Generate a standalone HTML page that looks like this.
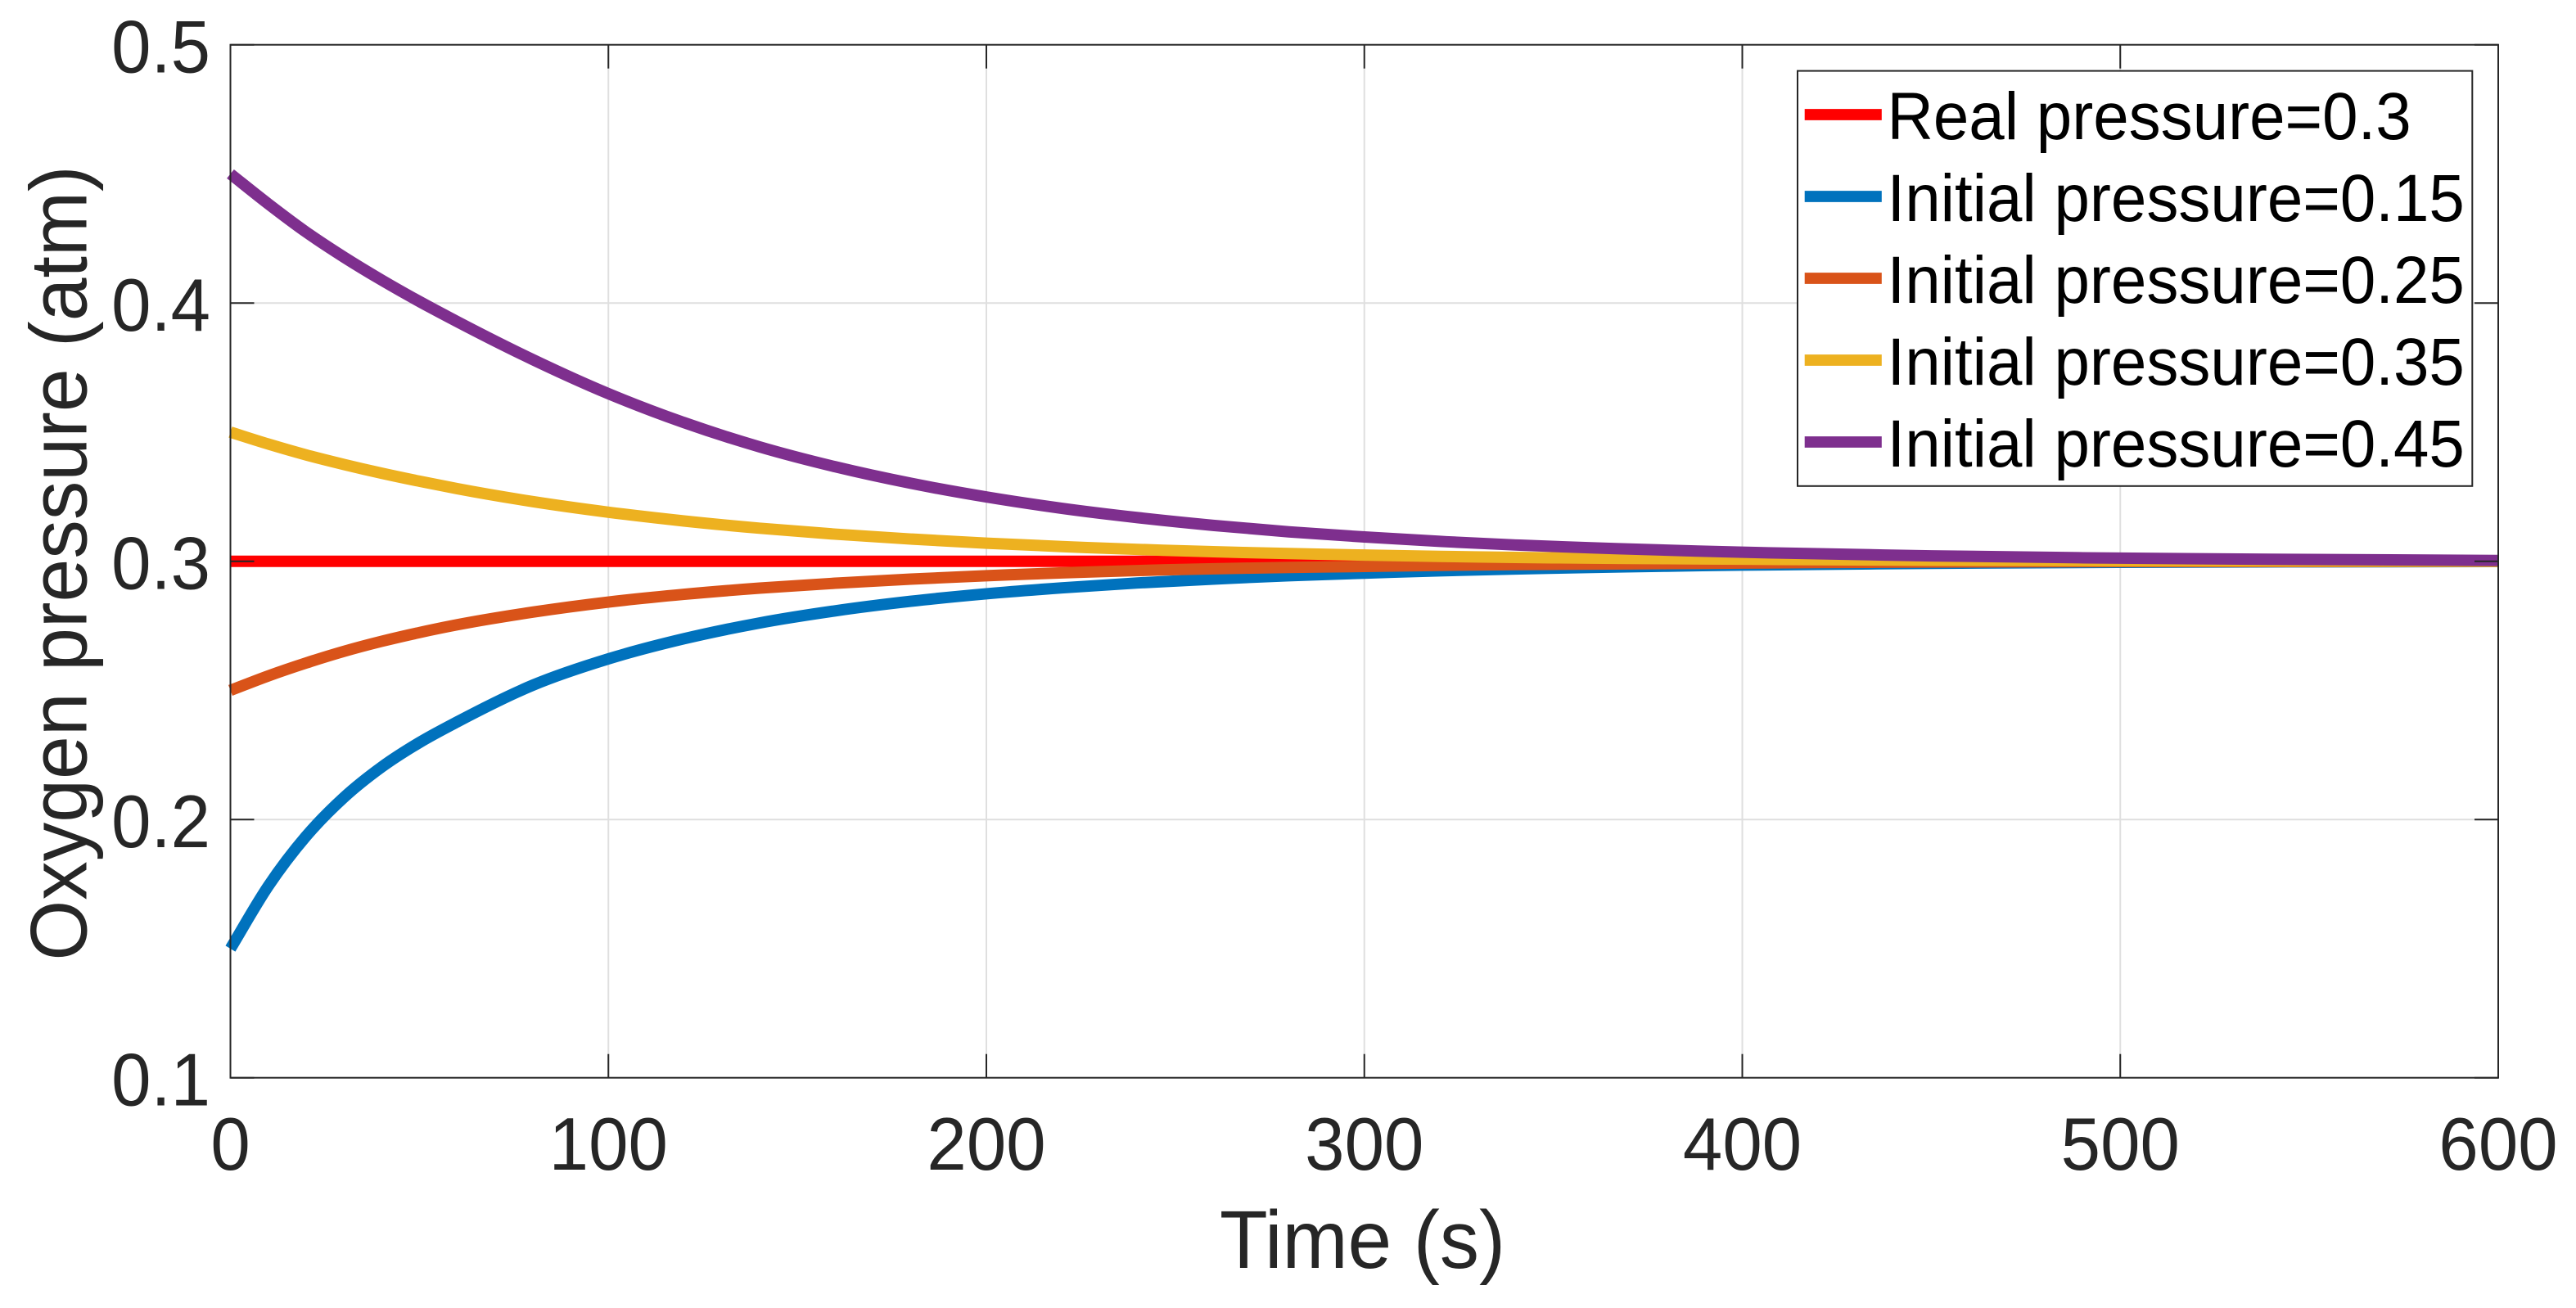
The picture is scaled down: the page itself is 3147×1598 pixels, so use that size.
<!DOCTYPE html>
<html lang="en">
<head>
<meta charset="utf-8">
<title>Oxygen pressure over time</title>
<style>
  html, body { margin: 0; padding: 0; background: #fff; }
  svg { display: block; font-family: "Liberation Sans", Arial, Helvetica, sans-serif; }
</style>
</head>
<body>
<svg id="chart" xmlns="http://www.w3.org/2000/svg" width="3147" height="1598" viewBox="0 0 3147 1598">
  <rect x="0" y="0" width="3147" height="1598" fill="#ffffff"/>
  <g id="grid"></g>
  <g id="series"></g>
  <rect x="281.5" y="54.7" width="2770.5" height="1262" fill="none" stroke="#262626" stroke-width="2"/>
  <g id="ticks"></g>
  <g id="tick-labels"></g>
  <text transform="translate(1664.5,1549) scale(1,1.04)" text-anchor="middle" font-size="96.2" fill="#262626">Time (s)</text>
  <text transform="translate(105.5,688) rotate(-90) scale(1,1.04)" text-anchor="middle" font-size="95" fill="#262626">Oxygen pressure (atm)</text>
  <g id="legend">
    <rect x="2196" y="86.6" width="824.3" height="507.2" fill="#ffffff" stroke="#262626" stroke-width="2"/>
  </g>
</svg>
<script>
// ---- chart data ----
const timeValues = [0,10,20,30,40,50,60,80,100,120,140,160,180,200,220,240,260,280,300,320,340,360,380,400,420,450,500,550,600];
const realPressure = [0.3,0.3,0.3,0.3,0.3,0.3,0.3,0.3,0.3,0.3,0.3,0.3,0.3,0.3,0.3,0.3,0.3,0.3,0.3,0.3,0.3,0.3,0.3,0.3,0.3,0.3,0.3,0.3,0.3];
const initial015 = [0.15,0.1742,0.1935,0.2085,0.2203,0.2298,0.2378,0.252,0.2622,0.27,0.2761,0.2808,0.2845,0.2874,0.2897,0.2916,0.2931,0.2944,0.2954,0.2963,0.297,0.2976,0.2981,0.2985,0.2988,0.2992,0.2996,0.2998,0.2999];
const initial025 = [0.25,0.2556,0.2606,0.2651,0.269,0.2724,0.2754,0.2803,0.2842,0.2872,0.2896,0.2915,0.2931,0.2944,0.2955,0.2964,0.2971,0.2976,0.298,0.2984,0.2987,0.2989,0.2991,0.2993,0.2995,0.2997,0.2999,0.2999,0.3];
const initial035 = [0.35,0.3454,0.3412,0.3375,0.3341,0.331,0.3281,0.3231,0.319,0.3156,0.3128,0.3105,0.3086,0.307,0.3057,0.3046,0.3037,0.303,0.3024,0.3019,0.3015,0.3012,0.301,0.3008,0.3006,0.3004,0.3002,0.3001,0.3];
const initial045 = [0.45,0.4384,0.4275,0.4178,0.4089,0.4006,0.3928,0.3781,0.3649,0.3537,0.3443,0.3366,0.3302,0.3249,0.3205,0.3169,0.3139,0.3114,0.3094,0.3077,0.3063,0.3052,0.3043,0.3035,0.3029,0.3021,0.3012,0.3007,0.3003];
const seriesLabels = ["Real pressure=0.3","Initial pressure=0.15","Initial pressure=0.25","Initial pressure=0.35","Initial pressure=0.45"];
const seriesColors = ["#ff0000","#0072bd","#d95319","#edb120","#7e2f8e"];
const xTickValues = [0,100,200,300,400,500,600];
const yTickValues = [0.1,0.2,0.3,0.4,0.5];
const xTickLabels = ["0","100","200","300","400","500","600"];
const yTickLabels = ["0.1","0.2","0.3","0.4","0.5"];
const allSeries = [realPressure, initial015, initial025, initial035, initial045];

// ---- axis functions ----
const plot = { left: 281.5, right: 3052, top: 54.7, bottom: 1316.7 };
function xScale(t) { return plot.left + (t - 0) / (600 - 0) * (plot.right - plot.left); }
function yScale(v) { return plot.bottom - (v - 0.1) / (0.5 - 0.1) * (plot.bottom - plot.top); }

const NS = "http://www.w3.org/2000/svg";
function make(tag, parentId, attrs) {
  const el = document.createElementNS(NS, tag);
  for (const k in attrs) el.setAttribute(k, attrs[k]);
  document.getElementById(parentId).appendChild(el);
  return el;
}

// smooth path through the data points (three-point Hermite tangents -> cubic Bezier)
function smoothPath(xs, ys) {
  const n = xs.length, m = [];
  for (let i = 0; i < n; i++) {
    if (i === 0 || i === n - 1) {
      const j = i === 0 ? 0 : n - 2;
      const h1 = xs[j + 1] - xs[j];
      m.push((ys[j + 1] - ys[j]) / h1);
    } else {
      const h0 = xs[i] - xs[i - 1], h1 = xs[i + 1] - xs[i];
      const a = (ys[i] - ys[i - 1]) / h0;
      const b = (ys[i + 1] - ys[i]) / h1;
      m.push(a * b <= 0 ? 0 : (a * h1 + b * h0) / (h0 + h1));
    }
  }
  let d = "M" + xs[0].toFixed(2) + " " + ys[0].toFixed(2);
  for (let i = 0; i < n - 1; i++) {
    const h = (xs[i + 1] - xs[i]) / 3;
    d += "C" + (xs[i] + h).toFixed(2) + " " + (ys[i] + m[i] * h).toFixed(2) + " " +
         (xs[i + 1] - h).toFixed(2) + " " + (ys[i + 1] - m[i + 1] * h).toFixed(2) + " " +
         xs[i + 1].toFixed(2) + " " + ys[i + 1].toFixed(2);
  }
  return d;
}

// grid lines
xTickValues.forEach(function (t, i) {
  if (i === 0 || i === xTickValues.length - 1) return;
  const g = make("line", "grid", { x1: xScale(t), x2: xScale(t), y1: plot.top, y2: plot.bottom, stroke: "#dfdfdf", "stroke-width": 2 });
  
  
});
yTickValues.forEach(function (v, i) {
  if (i === 0 || i === yTickValues.length - 1) return;
  const g = make("line", "grid", { x1: plot.left, x2: plot.right, y1: yScale(v), y2: yScale(v), stroke: "#dfdfdf", "stroke-width": 2 });
  
  
});

// series
allSeries.forEach(function (vals, s) {
  const xs = timeValues.map(xScale);
  const ys = vals.map(yScale);
  const p = make("path", "series", { d: smoothPath(xs, ys), fill: "none", stroke: seriesColors[s], "stroke-width": 14, "stroke-linejoin": "round", "stroke-linecap": "butt" });
  
  
});

// ticks
const tickLen = 29;
xTickValues.forEach(function (t) {
  const x = xScale(t);
  [[plot.bottom, plot.bottom - tickLen], [plot.top, plot.top + tickLen]].forEach(function (e) {
    const k = make("line", "ticks", { x1: x, x2: x, y1: e[0], y2: e[1], stroke: "#262626", "stroke-width": 2 });
    
    
  });
});
yTickValues.forEach(function (v) {
  const y = yScale(v);
  [[plot.left, plot.left + tickLen], [plot.right, plot.right - tickLen]].forEach(function (e) {
    const k = make("line", "ticks", { x1: e[0], x2: e[1], y1: y, y2: y, stroke: "#262626", "stroke-width": 2 });
    
    
  });
});

// tick labels
xTickValues.forEach(function (t, i) {
  const l = make("text", "tick-labels", { transform: "translate(" + xScale(t) + ",1429) scale(1,1.04)", "text-anchor": "middle", "font-size": 87, fill: "#262626" });
  l.textContent = xTickLabels[i];
  
  
});
yTickValues.forEach(function (v, i) {
  const l = make("text", "tick-labels", { transform: "translate(257," + (yScale(v) + 33.8) + ") scale(1,1.04)", "text-anchor": "end", "font-size": 87, fill: "#262626" });
  l.textContent = yTickLabels[i];
  
  
});

// legend entries
seriesLabels.forEach(function (label, i) {
  const y = 140 + 100 * i;
  const sw = make("line", "legend", { x1: 2204.7, x2: 2298.8, y1: y, y2: y, stroke: seriesColors[i], "stroke-width": 13.7 });
  
  
  const t = make("text", "legend", { transform: "translate(2305.5," + (y + 30) + ") scale(1,1.04)", "font-size": 78.1, fill: "#000000" });
  t.textContent = label;
  
  
});
</script>
</body>
</html>
